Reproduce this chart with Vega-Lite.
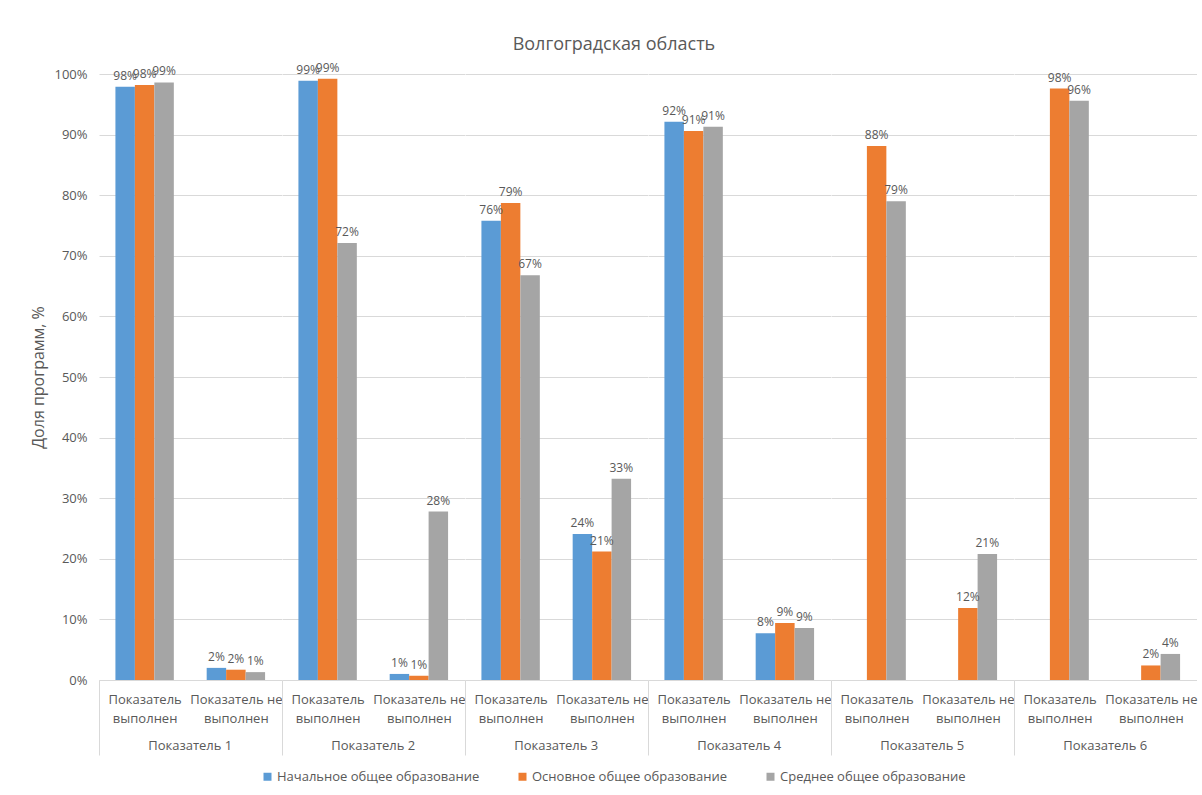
{
  "$schema": "https://vega.github.io/schema/vega-lite/v6.json",
  "background": "white",
  "padding": {"left": 30, "top": 35, "right": 5, "bottom": 5},
  "title": {"text": "Волгоградская область", "fontSize": 18, "font": "Open Sans", "fontWeight": "normal", "color": "#595959", "anchor": "middle", "frame": "bounds", "offset": 8},
  "data": {"values": [
    {"group": "Показатель 1", "category": "Показатель выполнен", "series": "Начальное общее образование", "value": 0.979},
    {"group": "Показатель 1", "category": "Показатель выполнен", "series": "Основное общее образование", "value": 0.982},
    {"group": "Показатель 1", "category": "Показатель выполнен", "series": "Среднее общее образование", "value": 0.986},
    {"group": "Показатель 1", "category": "Показатель не выполнен", "series": "Начальное общее образование", "value": 0.020},
    {"group": "Показатель 1", "category": "Показатель не выполнен", "series": "Основное общее образование", "value": 0.017},
    {"group": "Показатель 1", "category": "Показатель не выполнен", "series": "Среднее общее образование", "value": 0.013},
    {"group": "Показатель 2", "category": "Показатель выполнен", "series": "Начальное общее образование", "value": 0.989},
    {"group": "Показатель 2", "category": "Показатель выполнен", "series": "Основное общее образование", "value": 0.992},
    {"group": "Показатель 2", "category": "Показатель выполнен", "series": "Среднее общее образование", "value": 0.721},
    {"group": "Показатель 2", "category": "Показатель не выполнен", "series": "Начальное общее образование", "value": 0.010},
    {"group": "Показатель 2", "category": "Показатель не выполнен", "series": "Основное общее образование", "value": 0.007},
    {"group": "Показатель 2", "category": "Показатель не выполнен", "series": "Среднее общее образование", "value": 0.278},
    {"group": "Показатель 3", "category": "Показатель выполнен", "series": "Начальное общее образование", "value": 0.758},
    {"group": "Показатель 3", "category": "Показатель выполнен", "series": "Основное общее образование", "value": 0.787},
    {"group": "Показатель 3", "category": "Показатель выполнен", "series": "Среднее общее образование", "value": 0.668},
    {"group": "Показатель 3", "category": "Показатель не выполнен", "series": "Начальное общее образование", "value": 0.241},
    {"group": "Показатель 3", "category": "Показатель не выполнен", "series": "Основное общее образование", "value": 0.212},
    {"group": "Показатель 3", "category": "Показатель не выполнен", "series": "Среднее общее образование", "value": 0.332},
    {"group": "Показатель 4", "category": "Показатель выполнен", "series": "Начальное общее образование", "value": 0.921},
    {"group": "Показатель 4", "category": "Показатель выполнен", "series": "Основное общее образование", "value": 0.906},
    {"group": "Показатель 4", "category": "Показатель выполнен", "series": "Среднее общее образование", "value": 0.913},
    {"group": "Показатель 4", "category": "Показатель не выполнен", "series": "Начальное общее образование", "value": 0.077},
    {"group": "Показатель 4", "category": "Показатель не выполнен", "series": "Основное общее образование", "value": 0.094},
    {"group": "Показатель 4", "category": "Показатель не выполнен", "series": "Среднее общее образование", "value": 0.086},
    {"group": "Показатель 5", "category": "Показатель выполнен", "series": "Основное общее образование", "value": 0.881},
    {"group": "Показатель 5", "category": "Показатель выполнен", "series": "Среднее общее образование", "value": 0.790},
    {"group": "Показатель 5", "category": "Показатель не выполнен", "series": "Основное общее образование", "value": 0.119},
    {"group": "Показатель 5", "category": "Показатель не выполнен", "series": "Среднее общее образование", "value": 0.208},
    {"group": "Показатель 6", "category": "Показатель выполнен", "series": "Основное общее образование", "value": 0.976},
    {"group": "Показатель 6", "category": "Показатель выполнен", "series": "Среднее общее образование", "value": 0.956},
    {"group": "Показатель 6", "category": "Показатель не выполнен", "series": "Основное общее образование", "value": 0.024},
    {"group": "Показатель 6", "category": "Показатель не выполнен", "series": "Среднее общее образование", "value": 0.043}
  ]},
  "facet": {
    "column": {
      "field": "group", "type": "nominal", "title": null,
      "header": {"labelOrient": "bottom", "labelPadding": -16, "labelFontSize": 13, "labelFont": "Open Sans", "labelColor": "#595959"}
    }
  },
  "spacing": {"column": 0},
  "spec": {
    "width": 182.5,
    "height": 606,
    "encoding": {
      "x": {
        "field": "category", "type": "nominal", "title": null,
        "scale": {"domain": ["Показатель выполнен", "Показатель не выполнен"], "paddingInner": 0.36, "paddingOuter": 0.18},
        "axis": {
          "labelAngle": 0,
          "labelExpr": "datum.value == 'Показатель выполнен' ? ['Показатель', 'выполнен'] : ['Показатель не', 'выполнен']",
          "labelFont": "Open Sans", "labelFontSize": 13, "labelColor": "#595959",
          "labelLineHeight": 19, "labelPadding": -62, "labelOverlap": false, "labelLimit": 200,
          "domainColor": "#d9d9d9",
          "tickColor": "#d9d9d9",
          "bandPosition": 0, "tickOffset": -16.4, "labelOffset": 16.4,
          "tickSize": 75,
          "tickOpacity": {"condition": {"test": "datum.value == 'Показатель выполнен'", "value": 1}, "value": 0}
        }
      },
      "xOffset": {
        "field": "series", "type": "nominal",
        "scale": {"domain": ["Начальное общее образование", "Основное общее образование", "Среднее общее образование"], "paddingInner": 0, "paddingOuter": 0}
      },
      "y": {
        "field": "value", "type": "quantitative", "title": "Доля программ, %",
        "scale": {"domain": [0, 1]},
        "axis": {
          "format": ".0%", "values": [0, 0.1, 0.2, 0.3, 0.4, 0.5, 0.6, 0.7, 0.8, 0.9, 1.0],
          "domain": false, "ticks": false, "labelPadding": 12,
          "labelFont": "Open Sans", "labelFontSize": 13, "labelColor": "#595959",
          "gridColor": "#d9d9d9",
          "titleFont": "Open Sans", "titleFontSize": 16, "titleFontWeight": "normal", "titleColor": "#595959", "titlePadding": 7
        }
      }
    },
    "layer": [
      {
        "mark": {"type": "bar"},
        "encoding": {
          "color": {
            "field": "series", "type": "nominal",
            "scale": {"domain": ["Начальное общее образование", "Основное общее образование", "Среднее общее образование"], "range": ["#5B9BD5", "#ED7D31", "#A5A5A5"]},
            "legend": {"orient": "bottom", "direction": "horizontal", "title": null, "symbolType": "square", "symbolSize": 64, "symbolStrokeWidth": 0, "labelFont": "Open Sans", "labelFontSize": 13, "labelColor": "#595959", "labelLimit": 400, "labelOffset": 3, "columnPadding": 36, "offset": 14}
          }
        }
      },
      {
        "mark": {"type": "text", "baseline": "bottom", "dy": -4, "font": "Open Sans", "fontSize": 12, "color": "#595959"},
        "encoding": {
          "text": {"field": "value", "type": "quantitative", "format": ".0%"}
        }
      }
    ]
  },
  "config": {
    "view": {"stroke": null},
    "legend": {"layout": {"bottom": {"anchor": "middle"}}}
  }
}
